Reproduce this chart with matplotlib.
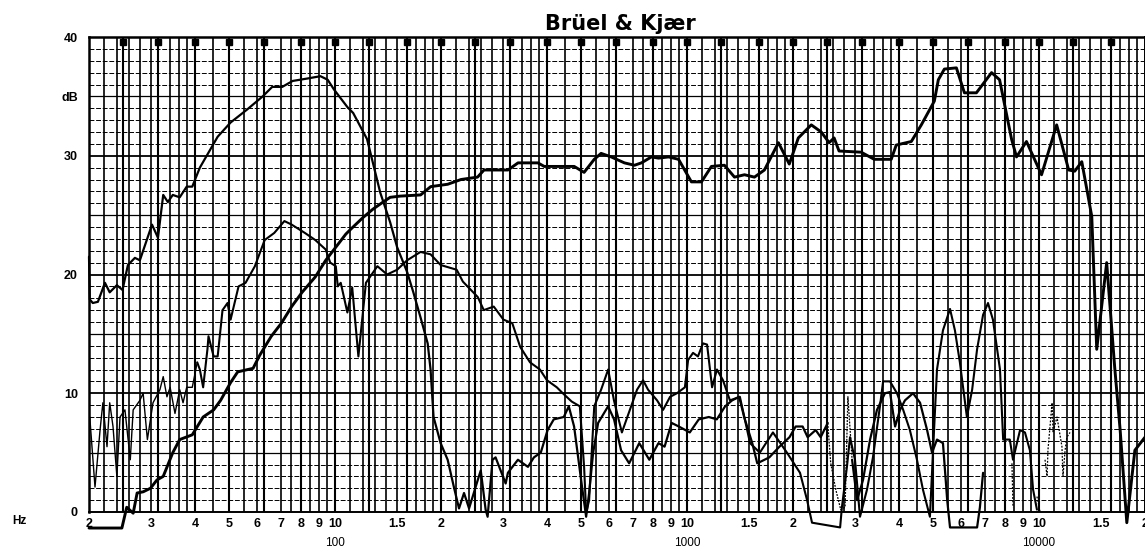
import numpy as np
import matplotlib.pyplot as plt
from matplotlib.ticker import NullLocator
from matplotlib.transforms import blended_transform_factory

# --- chart paper ---
# grid lines inside one decade (mantissa), third-octave lines carry a square mark
grid_mant = [1.0, 1.1, 1.2, 1.25, 1.3, 1.4, 1.5, 1.6, 1.7, 1.8, 1.9,
             2.0, 2.2, 2.4, 2.5, 2.6, 2.8, 3.0, 3.15, 3.4, 3.6, 3.8,
             4.0, 4.5, 5.0, 5.5, 6.0, 6.3, 7.0, 7.5, 8.0, 8.5, 9.0, 9.5]
third_oct = [1.0, 1.25, 1.6, 2.0, 2.5, 3.15, 4.0, 5.0, 6.3, 8.0]

tick_freq = [20, 30, 40, 50, 60, 70, 80, 90, 100, 150, 200,
             300, 400, 500, 600, 700, 800, 900, 1000, 1500, 2000,
             3000, 4000, 5000, 6000, 7000, 8000, 9000, 10000, 15000, 20000]
tick_text = ['2', '3', '4', '5', '6', '7', '8', '9', '10', '1.5', '2',
             '3', '4', '5', '6', '7', '8', '9', '10', '1.5', '2',
             '3', '4', '5', '6', '7', '8', '9', '10', '1.5', '2']
decade_freq = [100, 1000, 10000]
db_ticks = [0, 10, 20, 30, 35, 40]
db_text = ['0', '10', '20', '30', 'dB', '40']

# --- curve A (thick, full range) ---
a_freq = [20, 24.8, 25.6, 26.7, 27.4, 28.5, 29.9, 31.2, 32.5, 34.6,
          36.2, 39.3, 42.2, 45.2, 47.3, 50.5, 52.9, 58.5, 61.1, 65.9,
          70.4, 75.3, 80.6, 87.9, 94.1, 100.5, 107.3, 110.7, 120.1, 128.1,
          136.9, 143.4, 153, 175, 187, 209, 228, 254, 265, 310,
          331, 377, 393, 478, 510, 545, 570, 609, 664, 709,
          742, 792, 830, 886, 946, 1029, 1099, 1173, 1277, 1364,
          1456, 1554, 1659, 1818, 1952, 2071, 2254, 2406, 2533, 2617,
          2703, 3124, 3402, 3803, 3929, 4337, 4630, 5041, 5175, 5384,
          5824, 6138, 6638, 7331, 7725, 8355, 8630, 9211, 10165, 11222,
          12140, 12630, 13226, 14118, 14584, 15565, 16402, 17000, 17756, 18719,
          20000]
a_db = [-1.35, -1.35, 0.4, -0.1, 1.6, 1.7, 2.0, 2.7, 3.0, 5.0,
        6.1, 6.5, 8.0, 8.6, 9.4, 10.9, 11.8, 12.1, 13.2, 14.8,
        15.9, 17.3, 18.5, 19.8, 21.2, 22.3, 23.4, 23.8, 24.8, 25.5,
        26.1, 26.5, 26.6, 26.7, 27.4, 27.6, 28.0, 28.2, 28.8, 28.8,
        29.4, 29.4, 29.1, 29.1, 28.6, 29.7, 30.2, 29.9, 29.4, 29.2,
        29.4, 29.9, 29.8, 29.9, 29.7, 27.8, 27.8, 29.1, 29.2, 28.2,
        28.4, 28.2, 28.8, 31.1, 29.3, 31.5, 32.6, 32.0, 31.1, 31.5,
        30.4, 30.3, 29.7, 29.7, 30.9, 31.2, 32.6, 34.6, 36.4, 37.3,
        37.4, 35.3, 35.3, 37.0, 36.4, 31.4, 29.9, 31.2, 28.4, 32.6,
        28.8, 28.7, 29.5, 24.9, 13.7, 21.0, 12.2, 6.9, -0.9, 5.2,
        6.3]

# --- curve B (bass hump, then low level trace) ---
b_freq = [20, 20.1, 20.5, 21.2, 22.2, 22.9, 24.0, 24.9, 25.8, 27.0,
          27.9, 30.2, 31.4, 32.5, 33.5, 34.6, 36.2, 37.9, 39.3, 41.3,
          46.4, 50.5, 56.3, 62.3, 66.3, 70.8, 75.8, 83.3, 90.9, 95.3,
          99.2, 108.4, 112.6, 123.3, 134.4, 143.4, 150.1, 160.3, 166.9, 174.9,
          183.3, 186.8, 190.5, 199.5, 208.9, 217.6, 225, 232.5, 240.3, 254.4,
          259.4, 267.8, 271.3, 280.2, 285.8, 305.3, 309.8, 330.8, 353.2, 367.3,
          384.1, 401.7, 418.2, 446.5, 461.4, 477.7, 500.1, 516.8, 527, 541.1,
          559, 596.7, 620.4, 649.5, 684.8, 731.5, 781.3, 829.6, 863.4, 904.3,
          947.5, 1018, 1080, 1153, 1215, 1283, 1343, 1406, 1453, 1532,
          1583, 1713, 1830, 1955, 2035, 2130, 2201, 2320, 2397, 2510]
b_db = [21.5, 17.9, 17.6, 17.7, 19.3, 18.5, 19.1, 18.7, 20.8, 21.4,
        21.2, 24.2, 23.1, 26.7, 26.1, 26.7, 26.5, 27.4, 27.4, 29.0,
        31.6, 32.8, 33.9, 35.0, 35.8, 35.8, 36.3, 36.5, 36.7, 36.4,
        35.6, 34.1, 33.6, 31.4, 26.9, 24.4, 22.3, 20.2, 18.5, 16.4,
        14.2, 12.0, 8.0, 5.8, 4.4, 2.1, 0.3, 1.6, 0.3, 2.7,
        3.5, 0.2, -0.4, 4.4, 4.6, 2.4, 3.3, 4.4, 3.8, 4.6,
        5.0, 6.9, 7.8, 8.0, 8.9, 7.2, 2.7, -0.4, 1.6, 5.0,
        7.5, 8.9, 7.8, 5.2, 4.1, 5.8, 4.4, 5.8, 5.5, 7.5,
        7.2, 6.7, 7.8, 8.0, 7.8, 8.9, 9.4, 9.7, 8.0, 5.8,
        4.1, 4.6, 5.5, 6.3, 7.2, 7.2, 6.3, 6.9, 6.3, 7.5]
b_dot_freq = [2510, 2560, 2645, 2733, 2812, 2864, 2944]
b_dot_db = [7.5, 4.1, 1.9, 0.2, 0.4, 9.7, 4.4]
b_hi_freq = [2944, 3042, 3162, 3311, 3464, 3650, 3772, 3900, 4028, 4160,
             4386, 4592, 4808, 4966, 5130, 5334, 5484, 5586, 6668, 6792, 6934]
b_hi_db = [4.4, 1.0, 2.7, 6.1, 8.6, 10.0, 10.1, 7.2, 8.6, 9.4,
           10.0, 9.2, 6.9, 5.0, 6.1, 5.8, 1.0, -1.3, -1.3, 0.4, 3.3]
b_tail_freq = [8376, 8434, np.nan, 9864, 10068, np.nan, 10400, 10540, 10600,
               10890, 10960, 11246, 11616, 11696, 11858, 11996, 12248]
b_tail_db = [4.1, 0.4, np.nan, 1.3, 0.0, np.nan, 4.4, 3.0, 5.2,
             9.2, 6.7, 8.0, 5.5, 3.0, 5.2, 6.3, 6.7]

# --- curve C (thin noisy start, 75 Hz hump, mid/high trace) ---
c_low_freq = [20.1, 20.8, 21.5, 21.9, 22.5, 22.9, 23.4, 24.0, 24.5, 25.3,
              26.2, 26.7, 27.9, 28.5, 29.3, 30.4, 31.8, 32.5, 33.3, 34.0,
              35.1, 36.2, 37.0, 37.9, 39.3, 40.6]
c_low_db = [8.0, 2.1, 6.9, 9.2, 5.5, 9.2, 7.2, 3.0, 8.0, 8.6,
            4.4, 8.6, 9.4, 10.0, 6.1, 9.2, 10.3, 11.4, 9.7, 10.5,
            8.3, 10.3, 9.2, 10.5, 10.5, 12.6]
c_freq = [40.6, 41.3, 42.2, 43.4, 43.7, 45.2, 46.4, 47.9, 49.5, 50.5,
          53.2, 55.7, 59.2, 63.1, 67.2, 71.8, 75.3, 82.1, 87.9, 94.1,
          96.9, 100.5, 101.8, 103.8, 108.4, 111.9, 116.5, 122.4, 131.9, 140.6,
          150.1, 160.3, 174.9, 186.8, 199.5, 221.6, 230.8, 254.4, 264.6, 282.4,
          300.9, 318.8, 335.8, 358.1, 382, 399.8, 426.6, 443.6, 470.3, 496,
          510, 517, 527, 545, 570, 597, 620, 653, 688, 721,
          750, 775, 822, 855, 895, 936, 986, 1007, 1040, 1074,
          1110, 1140, 1178, 1216, 1265, 1324, 1413, 1510, 1610, 1754,
          1922, 2094, 2193, 2265, 2722, 2754, 2846, 2904, 3000, 3100,
          3246, 3374, 3532, 3606, 3772, 3948, 4112, 4296, 4500, 4678,
          4898, 5000, 5130, 5334, 5586, 5768, 5958, 6238, 6456, 6668,
          6934, 7162, 7396, 7746, 7908, 8260, 8434, 8832, 9120, 9420,
          9616, 9864]
c_db = [12.6, 12.0, 10.5, 13.7, 14.8, 13.1, 13.1, 17.0, 17.6, 16.2,
        19.0, 19.3, 20.7, 22.9, 23.5, 24.5, 24.2, 23.5, 22.9, 22.1,
        21.0, 20.7, 19.0, 19.3, 16.8, 18.9, 13.1, 19.3, 20.7, 20.0,
        20.4, 21.2, 21.9, 21.7, 20.8, 20.4, 19.4, 18.1, 17.0, 17.3,
        16.2, 15.9, 13.9, 12.6, 12.0, 11.1, 10.5, 10.0, 9.3, 8.9,
        3.8, -0.1, 1.0, 8.9, 10.3, 12.0, 9.4, 6.7, 8.6, 10.3,
        11.1, 10.3, 9.4, 8.6, 9.7, 10.0, 10.5, 12.8, 13.4, 13.1,
        14.2, 14.1, 10.5, 12.0, 11.1, 9.4, 9.7, 5.8, 5.0, 6.7,
        5.0, 3.3, 1.0, -0.9, -1.3, 0.4, 3.8, 6.3, 4.4, -0.4,
        1.9, 4.6, 8.9, 11.0, 11.0, 10.0, 8.6, 6.9, 4.4, 1.9,
        -0.4, 5.2, 12.0, 15.3, 17.1, 15.3, 12.6, 8.0, 10.3, 13.7,
        16.6, 17.6, 16.2, 12.0, 6.1, 6.1, 4.4, 6.9, 6.7, 5.2,
        1.9, 0.2]

W, H = 1145, 552
fig = plt.figure(figsize=(W / 100, H / 100), dpi=100)
fig.patch.set_facecolor('white')
ax = fig.add_axes([89 / W, 40 / H, 1056 / W, 475 / H])
ax.set_xscale('log')
ax.set_xlim(20, 20000)
ax.set_ylim(0, 40)

# paper grid
grid_freq = sorted(m * 10 ** k for k in range(1, 5) for m in grid_mant
                   if 20 <= m * 10 ** k <= 20000)
third_freq = [m * 10 ** k for k in range(1, 5) for m in third_oct
              if 25 <= m * 10 ** k <= 16000]
for f in grid_freq:
    ax.axvline(f, color='k', lw=1.2, zorder=1)
for f in third_freq:
    ax.axvline(f, color='k', lw=1.5, zorder=1)
for d in range(1, 40):
    if d % 10 == 0:
        ax.axhline(d, color='k', lw=1.3, zorder=1)
    elif d % 5 == 0:
        ax.axhline(d, color='k', lw=0.9, zorder=1)
    else:
        ax.axhline(d, color='k', lw=0.7, ls=(0, (5, 1.8)), zorder=1)
ax.plot(third_freq, [39.62] * len(third_freq), 's', color='k', ms=4.2,
        zorder=3, clip_on=False)

for side in ['left', 'top']:
    ax.spines[side].set_linewidth(1.8)
for side in ['bottom', 'right']:
    ax.spines[side].set_linewidth(1.4)

# recorded curves
line_kw = dict(color='k', clip_on=False, solid_joinstyle='round',
               solid_capstyle='round', zorder=4)
ax.plot(a_freq, a_db, lw=2.1, **line_kw)
ax.plot(b_freq, b_db, lw=1.6, **line_kw)
ax.plot(b_dot_freq, b_dot_db, lw=0.9, ls=(0, (1.5, 1)), color='k',
        clip_on=False, zorder=4)
ax.plot(b_hi_freq, b_hi_db, lw=1.6, **line_kw)
ax.plot(b_tail_freq, b_tail_db, lw=0.9, ls=(0, (1.5, 1.2)), color='k',
        clip_on=False, zorder=4)
ax.plot(c_low_freq, c_low_db, lw=1.0, **line_kw)
ax.plot(c_freq, c_db, lw=1.5, **line_kw)

# axis labels
ax.xaxis.set_minor_locator(NullLocator())
ax.set_xticks(tick_freq, tick_text, fontsize=9, fontweight='bold',
              family='Liberation Sans')
ax.tick_params(axis='x', length=0, pad=4)
ax.set_yticks(db_ticks, db_text, fontsize=9, fontweight='bold',
              family='Liberation Sans')
ax.tick_params(axis='y', length=0, pad=8)

trans = blended_transform_factory(ax.transData, ax.transAxes)
for f in decade_freq:
    ax.text(f, -0.066, str(f), transform=trans, ha='center', va='center',
            fontsize=8.5, family='Liberation Sans')

fig.text(12 / W, 1 - 521 / H, 'Hz', fontsize=8.5, fontweight='bold',
         family='Liberation Sans', va='center', ha='left')
fig.text(620 / W, 1 - 30 / H, 'Brüel & Kjær', fontsize=15,
         fontweight='bold', family='DejaVu Sans', ha='center', va='baseline')

fig.savefig('out.png', dpi=100, facecolor='white')
